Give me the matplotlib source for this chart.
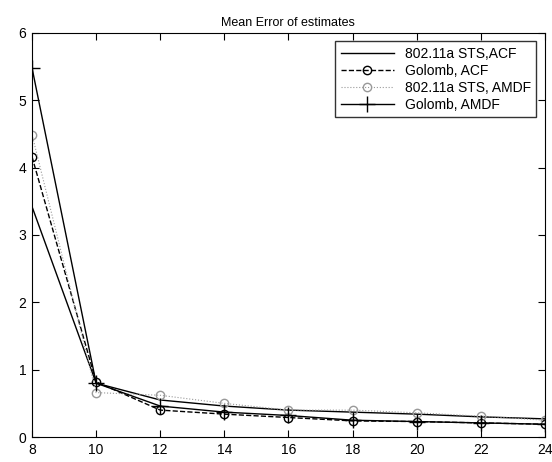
import matplotlib
matplotlib.use("Agg")
import matplotlib.pyplot as plt

plt.rcParams['font.family'] = ['Liberation Sans', 'DejaVu Sans']

x = [8, 10, 12, 14, 16, 18, 20, 22, 24]

sts_acf = [3.42, 0.80, 0.55, 0.46, 0.40, 0.37, 0.34, 0.30, 0.27]
golomb_acf = [4.16, 0.82, 0.40, 0.34, 0.29, 0.24, 0.23, 0.21, 0.19]
sts_amdf = [4.49, 0.66, 0.62, 0.50, 0.40, 0.40, 0.36, 0.31, 0.25]
golomb_amdf = [5.48, 0.80, 0.46, 0.37, 0.32, 0.25, 0.23, 0.21, 0.19]

fig = plt.figure(figsize=(5.52, 4.62), dpi=100)
ax = fig.add_axes([0.058, 0.054, 0.929, 0.875])

ax.plot(x, sts_acf, color="k", linestyle="-", linewidth=1, label="802.11a STS,ACF")
ax.plot(x, golomb_acf, color="k", linestyle="--", linewidth=1, marker="o",
        markersize=6, markerfacecolor="none", label="Golomb, ACF")
ax.plot(x, sts_amdf, color="0.6", linestyle=":", linewidth=0.8, marker="o",
        markersize=6, markerfacecolor="none", label="802.11a STS, AMDF")
ax.plot(x, golomb_amdf, color="k", linestyle="-", linewidth=1, marker="+",
        markersize=11, label="Golomb, AMDF")

ax.set_xlim(8, 24)
ax.set_ylim(0, 6)
ax.set_xticks(range(8, 25, 2))
ax.set_yticks(range(0, 7))
ax.tick_params(direction="in", length=5, labelsize=10, top=True, right=True,
               labeltop=False, labelright=False, pad=4)
ax.set_title("Mean Error of estimates", fontsize=9, pad=5)

leg = ax.legend(loc="upper right", fontsize=10, frameon=True, fancybox=False,
                edgecolor="k", borderaxespad=0.6, handlelength=3.8,
                labelspacing=0.22, borderpad=0.4)
leg.get_frame().set_linewidth(1)

plt.savefig("out.png", dpi=100)
